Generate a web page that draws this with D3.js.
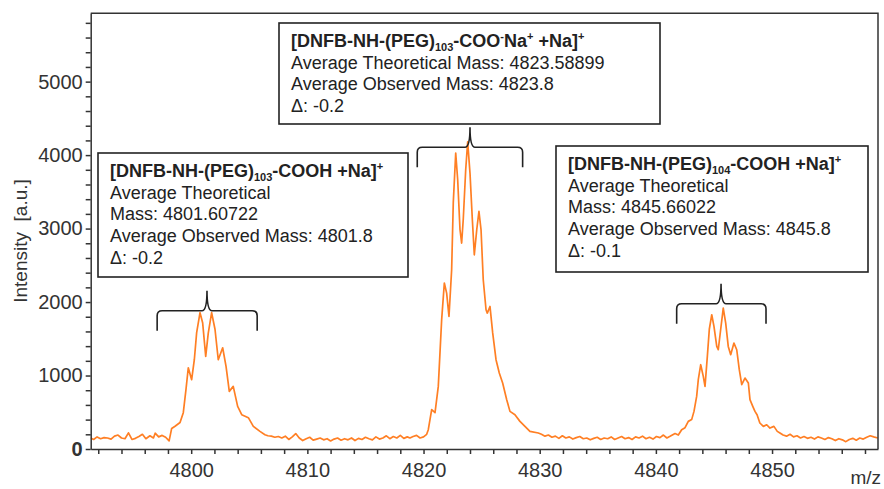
<!DOCTYPE html>
<head>
  <meta charset="utf-8">
  <style>
    body { margin: 0; background: #fff; }
    text { font-family: "Liberation Sans", Arial, sans-serif; fill: #222; }
    .axis text { font-size: 20px; fill: #333; }
    .axis path, .axis line { stroke: #333; stroke-width: 1.5; }
    .box_text { font-size: 18px; white-space: pre; }
    .box_title { font-size: 18px; font-weight: bold; white-space: pre; }
  </style>
  <title>Mass spectrum of DNFB-NH-PEG-COOH</title>
</head>

<body>
  <script src="https://d3js.org/d3.v7.min.js"></script>
  <script>
    // spectrum: [m/z, intensity]
    var spectrum = [
      [4791.35,150],[4791.6,130],[4791.9,165],[4792.2,140],[4792.5,155],[4792.8,150],[4793.1,135],
      [4793.4,175],[4793.7,190],[4794.0,150],[4794.3,140],[4794.6,220],[4794.9,130],[4795.2,145],
      [4795.5,170],[4795.8,200],[4796.1,140],[4796.45,180],[4796.75,150],[4796.9,215],[4797.2,165],
      [4797.5,185],[4797.8,160],[4798.1,110],
      // cluster 1
      [4798.32,280],[4798.61,310],[4799.04,360],[4799.32,494],[4799.55,807],[4799.75,1106],
      [4800.04,943],[4800.27,1215],[4800.47,1583],[4800.76,1855],[4800.99,1714],[4801.25,1260],
      [4801.47,1578],[4801.76,1855],[4802.05,1630],[4802.33,1215],[4802.71,1378],[4803.0,1124],
      [4803.28,784],[4803.62,852],[4804.0,580],[4804.35,467],[4804.92,426],[4805.35,308],
      [4805.92,240],[4806.35,195],
      [4806.6,180],[4806.9,175],[4807.2,160],[4807.5,170],[4807.8,150],[4808.1,175],[4808.4,130],
      [4808.7,165],[4809.0,210],[4809.3,150],[4809.6,115],[4809.9,140],[4810.2,160],[4810.5,120],
      [4810.8,135],[4811.1,150],[4811.4,125],[4811.7,140],[4812.0,110],[4812.3,135],[4812.6,150],
      [4812.9,120],[4813.2,140],[4813.5,125],[4813.8,150],[4814.1,115],[4814.4,145],[4814.7,130],
      [4815.0,160],[4815.3,140],[4815.6,125],[4815.9,165],[4816.2,135],[4816.5,150],[4816.8,180],
      [4817.1,140],[4817.4,170],[4817.7,150],[4818.0,185],[4818.3,145],[4818.6,165],[4818.83,150],
      [4819.1,170],[4819.4,185],[4819.7,150],[4820.0,165],
      // cluster 2
      [4820.27,200],[4820.41,263],[4820.7,535],[4820.99,494],[4821.27,852],[4821.56,1759],
      [4821.79,2259],[4821.99,2122],[4822.19,1804],[4822.42,2439],[4822.56,3350],[4822.77,4027],
      [4822.94,3664],[4823.14,2984],[4823.28,2803],[4823.42,3127],[4823.63,3800],[4823.8,4180],
      [4824.0,3755],[4824.2,3127],[4824.37,2643],[4824.58,2984],[4824.77,3233],[4824.95,2984],
      [4825.14,2303],[4825.38,1895],[4825.49,1850],[4825.72,1940],[4825.95,1583],[4826.24,1215],
      [4826.52,1034],[4826.81,898],[4827.16,671],[4827.44,512],[4827.87,467],[4828.3,376],
      [4828.73,308],[4829.16,240],[4829.88,218],
      [4830.15,200],[4830.45,175],[4830.75,190],[4831.05,160],[4831.35,175],[4831.65,145],
      [4831.95,180],[4832.25,150],[4832.55,165],[4832.85,135],[4833.15,155],[4833.45,170],
      [4833.75,140],[4834.05,150],[4834.35,125],[4834.65,145],[4834.95,160],[4835.25,130],
      [4835.55,150],[4835.85,140],[4836.15,165],[4836.45,130],[4836.75,150],[4837.05,170],
      [4837.35,140],[4837.65,155],[4837.95,130],[4838.25,165],[4838.55,150],[4838.85,175],
      [4839.15,140],[4839.45,160],[4839.75,135],[4840.05,170],[4840.35,155],[4840.65,190],
      [4840.95,150],
      // cluster 3
      [4841.22,172],[4841.65,210],[4841.93,190],[4842.22,263],[4842.51,290],[4842.79,376],
      [4843.08,400],[4843.28,512],[4843.51,716],[4843.65,943],[4843.86,1147],[4844.08,988],
      [4844.23,852],[4844.43,1260],[4844.6,1630],[4844.81,1827],[4845.0,1668],[4845.24,1396],
      [4845.37,1351],[4845.58,1630],[4845.8,1918],[4846.01,1714],[4846.23,1396],[4846.44,1283],
      [4846.72,1442],[4846.96,1351],[4847.18,1079],[4847.39,875],[4847.67,966],[4847.96,898],
      [4848.1,671],[4848.34,580],[4848.53,512],[4848.71,467],[4848.95,354],[4849.25,308],
      [4849.54,330],[4849.82,285],[4850.16,308],[4850.45,240],[4850.68,218],
      [4850.95,190],[4851.25,175],[4851.55,200],[4851.85,165],[4852.15,180],[4852.45,150],
      [4852.75,170],[4853.05,145],[4853.35,160],[4853.65,135],[4853.95,165],[4854.25,150],
      [4854.55,130],[4854.85,155],[4855.15,140],[4855.45,115],[4855.75,140],[4856.05,125],
      [4856.35,100],[4856.65,130],[4856.95,145],[4857.25,120],[4857.55,150],[4857.85,135],
      [4858.15,160],[4858.45,180],[4858.75,165],[4859.1,150]
    ];

    var xTickLabels = [4800, 4810, 4820, 4830, 4840, 4850];
    var yTickLabels = [0, 1000, 2000, 3000, 4000, 5000];

    // brackets: [left m/z, centre m/z, right m/z, intensity of the bar]
    var brackets = [
      [4797.07, 4801.36, 4805.68, 1882],
      [4819.46, 4824.0, 4828.53, 4106],
      [4841.79, 4845.61, 4849.48, 1976]
    ];

    // label texts, title pieces are [text, "", "sub" or "sup"]
    var titleLeft = [["[DNFB-NH-(PEG)", ""], ["103", "sub"], ["-COOH +Na]", ""], ["+", "sup"]];
    var titleCenter = [["[DNFB-NH-(PEG)", ""], ["103", "sub"], ["-COO", ""], ["-", "sup"],
                       ["Na", ""], ["+", "sup"], [" +Na]", ""], ["+", "sup"]];
    var titleRight = [["[DNFB-NH-(PEG)", ""], ["104", "sub"], ["-COOH +Na]", ""], ["+", "sup"]];
    var linesLeft = ["Average Theoretical", "Mass: 4801.60722", "Average Observed Mass: 4801.8", "\u0394: -0.2"];
    var linesCenter = ["Average Theoretical Mass: 4823.58899", "Average Observed Mass: 4823.8", "\u0394: -0.2"];
    var linesRight = ["Average Theoretical", "Mass: 4845.66022", "Average Observed Mass: 4845.8", "\u0394: -0.1"];

    // dimensions
    var width = 884;
    var height = 489;
    var margin = {top: 13.3, right: 6, bottom: 40, left: 90.7};
    var plotBottom = height - margin.bottom;
    var plotRight = width - margin.right;

    var x = d3.scaleLinear()
              .domain([4791.35, 4859.12])
              .range([margin.left, plotRight]);
    var y = d3.scaleLinear()
              .domain([0, 5930])
              .range([plotBottom, margin.top]);

    var svg = d3.select("body").append("svg")
      .attr("width", width)
      .attr("height", height);

    svg.append("clipPath")
      .attr("id", "plot_clip")
      .append("rect")
      .attr("x", margin.left).attr("y", margin.top)
      .attr("width", plotRight - margin.left)
      .attr("height", plotBottom - margin.top);

    // spectrum line
    var line = d3.line()
      .x(function(d) { return x(d[0]); })
      .y(function(d) { return y(d[1]); });

    svg.append("path")
      .datum(spectrum)
      .attr("clip-path", "url(#plot_clip)")
      .attr("fill", "none")
      .attr("stroke", "#ff7f24")
      .attr("stroke-width", 1.7)
      .attr("stroke-linejoin", "round")
      .attr("d", line);

    // X axis, minor tick every 2
    svg.append("g")
      .attr("class", "axis")
      .attr("transform", "translate(0," + plotBottom + ")")
      .call(d3.axisBottom(x)
        .tickValues(d3.range(4792, 4859, 2))
        .tickFormat(function(d) { return xTickLabels.indexOf(d) >= 0 ? d : ""; })
        .tickSize(5).tickSizeOuter(0).tickPadding(9));

    // Y axis, minor tick every 200
    var yAxis = svg.append("g")
      .attr("class", "axis")
      .attr("transform", "translate(" + margin.left + ",0)")
      .call(d3.axisLeft(y)
        .tickValues(d3.range(0, 5801, 200))
        .tickFormat(function(d) { return yTickLabels.indexOf(d) >= 0 ? d : ""; })
        .tickSize(5).tickSizeOuter(0).tickPadding(3));
    yAxis.selectAll(".tick text")
      .filter(function(d) { return d === 0; })
      .style("font-weight", "bold");

    // frame top and right
    svg.append("path")
      .attr("fill", "none")
      .attr("stroke", "#333")
      .attr("stroke-width", 1.5)
      .attr("d", "M" + margin.left + "," + margin.top + "H" + plotRight + "V" + plotBottom);

    // axis titles
    svg.append("text")
      .attr("transform", "translate(27," + 241 + ") rotate(-90)")
      .style("text-anchor", "middle")
      .style("font-size", "19px")
      .style("white-space", "pre")
      .style("fill", "#333")
      .text("Intensity  [a.u.]");

    svg.append("text")
      .attr("x", width - 3)
      .attr("y", 484)
      .style("text-anchor", "end")
      .style("font-size", "19px")
      .style("fill", "#333")
      .text("m/z");

    // brackets
    var tipUp = 20, endDown = 20, r = 5;
    svg.append("g")
      .selectAll("path")
      .data(brackets)
      .enter()
      .append("path")
      .attr("fill", "none")
      .attr("stroke", "#222")
      .attr("stroke-width", 1.6)
      .attr("d", function(d) {
        var l = x(d[0]), c = x(d[1]), rt = x(d[2]), h = y(d[3]);
        return "M" + l + "," + (h + endDown) +
          "V" + (h + r) + "Q" + l + "," + h + " " + (l + r) + "," + h +
          "H" + (c - r) + "Q" + c + "," + h + " " + c + "," + (h - tipUp) +
          "Q" + c + "," + h + " " + (c + r) + "," + h +
          "H" + (rt - r) + "Q" + rt + "," + h + " " + rt + "," + (h + r) +
          "V" + (h + endDown);
      });

    // label boxes
    var boxes = [
      {x: 98, y: 153, w: 310, h: 124, title: titleLeft, lines: linesLeft},
      {x: 279, y: 23, w: 381, h: 101, title: titleCenter, lines: linesCenter},
      {x: 556, y: 146, w: 312, h: 126, title: titleRight, lines: linesRight}
    ];
    var lineGap = 21.7;

    boxes.forEach(function(b) {
      var g = svg.append("g");
      g.append("rect")
        .attr("x", b.x).attr("y", b.y)
        .attr("width", b.w).attr("height", b.h)
        .attr("fill", "#fff")
        .attr("stroke", "#222")
        .attr("stroke-width", 1.6);

      var tx = b.x + 12;
      var title = g.append("text")
        .attr("class", "box_title")
        .attr("x", tx)
        .attr("y", b.y + 24);
      var shift = 0;
      b.title.forEach(function(p) {
        var target = p[1] === "sub" ? 4 : (p[1] === "sup" ? -7 : 0);
        title.append("tspan")
          .attr("dy", target - shift)
          .style("font-size", p[1] === "" ? "18px" : "11px")
          .text(p[0]);
        shift = target;
      });

      b.lines.forEach(function(t, i) {
        g.append("text")
          .attr("class", "box_text")
          .attr("x", tx)
          .attr("y", b.y + 24 + lineGap * (i + 1))
          .text(t);
      });
    });
  </script>
</body>
